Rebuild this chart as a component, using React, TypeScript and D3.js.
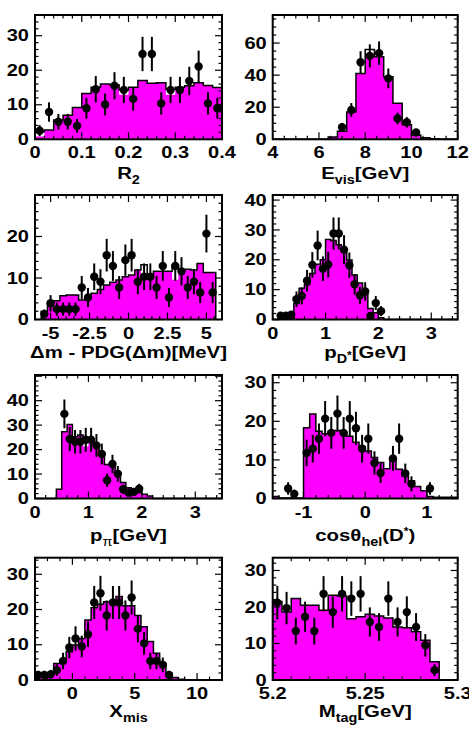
import React from 'react';
import * as d3 from 'd3';

// ---------------- data ----------------
// Panel 1: R2 (20 bins, 0..0.4)
const r2Mc = [2.2, 2.7, 5.6, 7.0, 9.2, 13.3, 15.1, 16.0, 15.7, 14.3, 15.1, 17.0, 16.2, 16.4, 14.5, 15.1, 15.5, 16.4, 15.6, 15.0];
const r2Fill = [0.8, 2.7, 5.6, 7.0, 9.2, 13.3, 15.1, 16.0, 15.7, 12.9, 15.1, 17.0, 16.2, 16.4, 12.9, 15.1, 15.5, 16.4, 15.6, 15.0];
const r2Data = [2.5, 7.9, 5.1, 5.1, 3.9, 9.0, 14.5, 10.1, 15.5, 14.3, 11.7, 24.7, 24.7, 10.4, 14.3, 14.3, 16.9, 21.1, 10.4, 9.0];

// Panel 2: E_vis (20 bins, 4..12)
const evisMc = [0, 0, 0, 0, 0, 0, 1.5, 5, 17, 41, 56, 51.5, 39, 22.5, 9, 2.7, 1, 0.3, 0, 0];
const evisFill = [0, 0, 0, 0, 0, 0, 1.5, 5, 17, 41, 53.7, 51.5, 39, 22.5, 9, 2.7, 1, 0.3, 0, 0];
const evisData = [null, null, null, null, null, null, null, 7.5, 18.3, 48, 52, 53.7, 38, 13, 10.6, 4.2, null, null, null, null];

// Panel 3: dm - PDG(dm) (28 bins, -5.6..5.6)
const dmMc = [2.0, 4.0, 4.5, 5.7, 5.9, 5.9, 4.7, 5.5, 6.3, 7.2, 8.3, 9.0, 9.5, 10.3, 10.7, 11.9, 13.2, 10.8, 11.6, 11.6, 11.6, 13.0, 12.1, 12.1, 11.9, 13.5, 11.3, 11.3];
const dmFill = [2.0, 4.0, 4.5, 5.7, 5.9, 5.9, 4.7, 5.5, 6.3, 7.2, 8.3, 9.0, 9.5, 10.3, 10.7, 11.9, 10.9, 10.8, 11.6, 11.6, 11.6, 9.6, 12.1, 12.1, 11.9, 13.5, 11.3, 11.3];
const dmData = [1.3, 3.9, 2.5, 2.5, 2.5, 2.5, 7.7, 5.3, 10.3, 9.1, 15.5, 12.9, 7.7, 14.3, 15.5, 9.1, 10.3, 10.3, 7.7, 12.9, 5.3, 12.9, 11.6, 7.7, 9.1, 6.5, 20.7, 6.5];

// Panel 4: p_D* (35 bins, 0..3.5)
const pdMc = [0, 0.2, 0.2, 0.2, 5.4, 10.5, 11.6, 15.4, 18.5, 20.0, 26.8, 26.5, 25.0, 22.7, 19.9, 14.9, 12.2, 9.8, 3.7, 2.3, 0.6, 0, 0, 0, 0, 0, 0, 0, 0, 0, 0, 0, 0, 0, 0];
const pdData = [null, 1.3, 1.3, 1.6, 6.8, 7.9, 13.0, 18.3, 24.8, 17.0, 18.4, 28.8, 28.8, 23.4, 18.2, 11.8, 8.1, 9.4, 1.2, 5.5, 2.8, null, null, null, null, null, null, null, null, null, null, null, null, null, null];

// Panel 5: p_pi (35 bins, 0..3.5)
const ppiMc = [0, 0, 0, 0, 3.8, 27.3, 30.3, 25.3, 26.0, 23.5, 23.5, 21.3, 18.6, 13.9, 13.9, 10.5, 6.5, 4.4, 3.5, 2.9, 1.7, 1.0, 0, 0, 0, 0, 0, 0, 0, 0, 0, 0, 0, 0, 0];
const ppiFill = [0, 0, 0, 0, 3.8, 27.3, 30.3, 25.3, 26.0, 21.3, 23.5, 21.3, 18.6, 13.9, 13.9, 10.5, 6.5, 4.4, 3.5, 2.9, 1.7, 1.0, 0, 0, 0, 0, 0, 0, 0, 0, 0, 0, 0, 0, 0];
const ppiData = [null, null, null, null, null, 34.6, 24.3, 23.2, 23.2, 24.0, 24.0, 21.7, 18.2, 7.5, 14.1, 10.1, 3.8, 2.4, 2.7, 4.0, null, null, null, null, null, null, null, null, null, null, null, null, null, null, null];

// Panel 6: cos(theta_hel) (30 bins, -1.5..1.5)
const cosMc = [0.5, 0.1, 0.1, 0.1, 0.1, 18.3, 21.9, 17.4, 16.8, 17.4, 17.6, 17.1, 16.1, 14.6, 13.5, 12.3, 10.6, 9.3, 7.7, 10.3, 7.6, 5.8, 4.6, 3.1, 2.0, 0.5, 0.3, 0.3, 0.3, 0.3];
const cosData = [null, null, 2.6, 1.2, null, 11.8, 12.9, 15.5, 20.7, 17.0, 22.0, 17.0, 20.7, 18.2, 12.9, 15.5, 9.2, 6.6, null, 10.4, 15.5, 6.5, 3.8, null, null, 2.6, null, null, null, null];

// Panel 7: X_mis (30 bins, -3..12)
const xmMc = [0.8, 0.8, 1.4, 4.7, 5.5, 8.0, 9.9, 11.8, 17.0, 20.5, 21.5, 22.2, 22.4, 23.7, 21.1, 21.1, 18.3, 15.1, 10.9, 7.6, 4.7, 1.9, 0.7, 0.2, 0, 0, 0, 0, 0, 0];
const xmData = [1.4, 1.4, 1.6, 2.8, 5.4, 9.2, 11.8, 9.5, 13.0, 22.0, 24.6, 18.3, 22.0, 22.0, 18.3, 23.4, 14.5, 10.4, 5.4, 5.4, 4.3, 1.4, null, null, null, null, null, null, null, null];

// Panel 8: M_tag (20 bins, 5.2..5.3)
const mtagMc = [21.5, 18.6, 22.3, 20.5, 20.5, 19.1, 23.2, 23.0, 16.8, 17.3, 18.0, 17.5, 17.0, 14.5, 14.3, 13.2, 10.9, 5.0, 0, 0];
const mtagData = [21.2, 19.7, 13.4, 17.3, 13.4, 23.6, 18.6, 23.6, 22.3, 23.6, 15.9, 14.5, 22.3, 15.9, 18.6, 14.5, 9.5, 2.7, null, null];

// tick labels
const r2XLabels = ['0', '0.1', '0.2', '0.3', '0.4'];
const evisXLabels = ['4', '6', '8', '10', '12'];
const dmXLabels = ['-5', '-2.5', '0', '2.5', '5'];
const pXLabels = ['0', '1', '2', '3'];
const cosXLabels = ['-1', '0', '1'];
const xmXLabels = ['0', '5', '10'];
const mtagXLabels = ['5.2', '5.25', '5.3'];
const y30Labels = ['0', '10', '20', '30'];
const y60Labels = ['0', '20', '40', '60'];
const y20Labels = ['0', '10', '20'];
const y40Labels = ['0', '10', '20', '30', '40'];

// ---------------- layout ----------------
const W = 469;
const H = 729;
const FONT = "'Liberation Sans', Arial, Helvetica, sans-serif";
const MAGENTA = '#ff00ff';
const COLS = [
  { x0: 35, x1: 222 },
  { x0: 272.7, x1: 457.7 },
];
const ROWS = [
  { y0: 15, y1: 139.3, titleDy: 40 },
  { y0: 195, y1: 319.5, titleDy: 38.5 },
  { y0: 375, y1: 498.5, titleDy: 42 },
  { y0: 557.7, y1: 680, titleDy: 36.5 },
];

function STxt({ x, y, anchor = 'middle', size = 16, sx = 1.25, children }: any) {
  return (
    <g transform={`translate(${x},${y}) scale(${sx},1)`}>
      <text x={0} y={0} textAnchor={anchor} fontFamily={FONT} fontWeight="bold" fontSize={size} fill="#000">
        {children}
      </text>
    </g>
  );
}

function tickValues(d0: number, d1: number, step: number) {
  const out: number[] = [];
  const k0 = Math.ceil(d0 / step - 1e-6);
  const k1 = Math.floor(d1 / step + 1e-6);
  for (let k = k0; k <= k1; k++) out.push(k * step);
  return out;
}
const isMult = (v: number, s: number) => Math.abs(v / s - Math.round(v / s)) < 1e-6;

function Panel(p: any) {
  const { x0, x1 } = COLS[p.col];
  const { y0, y1, titleDy } = ROWS[p.row];
  const xs = d3.scaleLinear().domain(p.xDomain).range([x0, x1]);
  const ys = d3.scaleLinear().domain(p.yDomain).range([y1, y0]);
  const n = p.mc.length;
  const edge = (i: number) => p.binLo + i * p.binW;
  const line = d3.line<[number, number]>().x((d) => xs(d[0])).y((d) => ys(Math.min(d[1], p.yDomain[1])));
  const stepPts = (vals: number[]) => {
    const pts: [number, number][] = [[edge(0), 0]];
    vals.forEach((v, i) => {
      pts.push([edge(i), v], [edge(i + 1), v]);
    });
    pts.push([edge(n), 0]);
    return pts;
  };
  const fillVals = p.fill || p.mc;
  const majL = 7;
  const minL = 3.5;
  const xt = tickValues(p.xDomain[0], p.xDomain[1], p.xMinor);
  const yt = tickValues(p.yDomain[0], p.yDomain[1], p.yMinor);
  const ticks: any[] = [];
  xt.forEach((v, i) => {
    const L = isMult(v, p.xMajor) ? majL : minL;
    const X = xs(v);
    ticks.push(<line key={'xb' + i} x1={X} x2={X} y1={y1} y2={y1 - L} />);
    ticks.push(<line key={'xt' + i} x1={X} x2={X} y1={y0} y2={y0 + L} />);
  });
  yt.forEach((v, i) => {
    const L = isMult(v, p.yMajor) ? majL : minL;
    const Y = ys(v);
    ticks.push(<line key={'yl' + i} x1={x0} x2={x0 + L} y1={Y} y2={Y} />);
    ticks.push(<line key={'yr' + i} x1={x1} x2={x1 - L} y1={Y} y2={Y} />);
  });
  const pts = p.data
    .map((v: number | null, i: number) => (v == null ? null : { x: edge(i) + p.binW / 2, v, e: Math.sqrt(v) }))
    .filter(Boolean);
  return (
    <g>
      <path d={line(stepPts(fillVals)) || ''} fill={MAGENTA} stroke="none" />
      <path d={line(stepPts(p.mc)) || ''} fill="none" stroke="#000" strokeWidth={1.5} />
      <g stroke="#000" strokeWidth={1.2}>{ticks}</g>
      <rect x={x0} y={y0} width={x1 - x0} height={y1 - y0} fill="none" stroke="#000" strokeWidth={2} />
      {pts.map((d: any, i: number) => (
        <g key={'p' + i}>
          <line x1={xs(d.x)} x2={xs(d.x)} y1={ys(d.v - d.e)} y2={ys(d.v + d.e)} stroke="#000" strokeWidth={2} />
          <circle cx={xs(d.x)} cy={ys(d.v)} r={4.2} fill="#000" />
        </g>
      ))}
      {p.xLabels.map((s: string, i: number) => (
        <STxt key={'xl' + i} x={xs(parseFloat(s))} y={y1 + 19}>
          {s}
        </STxt>
      ))}
      {p.yLabels.map((s: string, i: number) => (
        <STxt key={'yl' + i} x={x0 - 6} y={ys(parseFloat(s)) + 5.7} anchor="end">
          {s}
        </STxt>
      ))}
      <STxt x={(x0 + x1) / 2} y={y1 + titleDy} size={17} sx={1.2}>
        {p.title}
      </STxt>
    </g>
  );
}

const SUB = 5;

export default function App() {
  return (
    <svg
      width={W}
      height={H}
      viewBox={`0 0 ${W} ${H}`}
      style={{ position: 'absolute', left: 0, top: 0, display: 'block', background: '#fff' }}
    >
      <rect x={0} y={0} width={W} height={H} fill="#fff" />
      <Panel col={0} row={0} xDomain={[0, 0.4]} yDomain={[0, 36]} binLo={0} binW={0.02}
        mc={r2Mc} fill={r2Fill} data={r2Data} xMajor={0.1} xMinor={0.02} yMajor={10} yMinor={2}
        xLabels={r2XLabels} yLabels={y30Labels}
        title={<>R<tspan dy={SUB} fontSize={12}>2</tspan></>} />
      <Panel col={1} row={0} xDomain={[4, 12]} yDomain={[0, 77.5]} binLo={4} binW={0.4}
        mc={evisMc} fill={evisFill} data={evisData} xMajor={2} xMinor={0.5} yMajor={20} yMinor={5}
        xLabels={evisXLabels} yLabels={y60Labels}
        title={<>E<tspan dy={SUB} fontSize={12}>vis</tspan><tspan dy={-SUB}>[GeV]</tspan></>} />
      <Panel col={0} row={1} xDomain={[-6, 6]} yDomain={[0, 30]} binLo={-5.6} binW={0.4}
        mc={dmMc} fill={dmFill} data={dmData} xMajor={2.5} xMinor={0.5} yMajor={10} yMinor={2}
        xLabels={dmXLabels} yLabels={y20Labels}
        title={<>Δm - PDG(Δm)[MeV]</>} />
      <Panel col={1} row={1} xDomain={[0, 3.5]} yDomain={[0, 41.7]} binLo={0} binW={0.1}
        mc={pdMc} data={pdData} xMajor={1} xMinor={0.2} yMajor={10} yMinor={2}
        xLabels={pXLabels} yLabels={y40Labels}
        title={<>p<tspan dy={SUB} fontSize={12}>D</tspan><tspan dy={-4} fontSize={10}>*</tspan><tspan dy={-1}>[GeV]</tspan></>} />
      <Panel col={0} row={2} xDomain={[0, 3.5]} yDomain={[0, 50.5]} binLo={0} binW={0.1}
        mc={ppiMc} fill={ppiFill} data={ppiData} xMajor={1} xMinor={0.2} yMajor={10} yMinor={2}
        xLabels={pXLabels} yLabels={y40Labels}
        title={<>p<tspan dy={SUB} fontSize={12} fontWeight="normal">π</tspan><tspan dy={-SUB}>[GeV]</tspan></>} />
      <Panel col={1} row={2} xDomain={[-1.5, 1.5]} yDomain={[0, 32]} binLo={-1.5} binW={0.1}
        mc={cosMc} data={cosData} xMajor={1} xMinor={0.2} yMajor={10} yMinor={2}
        xLabels={cosXLabels} yLabels={y30Labels}
        title={<>cosθ<tspan dy={SUB} fontSize={12}>hel</tspan><tspan dy={-SUB}>(D</tspan><tspan dy={-6} fontSize={10}>*</tspan><tspan dy={6}>)</tspan></>} />
      <Panel col={0} row={3} xDomain={[-3, 12]} yDomain={[0, 34.7]} binLo={-3} binW={0.5}
        mc={xmMc} data={xmData} xMajor={5} xMinor={1} yMajor={10} yMinor={2}
        xLabels={xmXLabels} yLabels={y30Labels}
        title={<>X<tspan dy={SUB} fontSize={12}>mis</tspan></>} />
      <Panel col={1} row={3} xDomain={[5.2, 5.3]} yDomain={[0, 33.5]} binLo={5.2} binW={0.005}
        mc={mtagMc} data={mtagData} xMajor={0.05} xMinor={0.01} yMajor={10} yMinor={2}
        xLabels={mtagXLabels} yLabels={y30Labels}
        title={<>M<tspan dy={SUB} fontSize={12}>tag</tspan><tspan dy={-SUB}>[GeV]</tspan></>} />
    </svg>
  );
}
